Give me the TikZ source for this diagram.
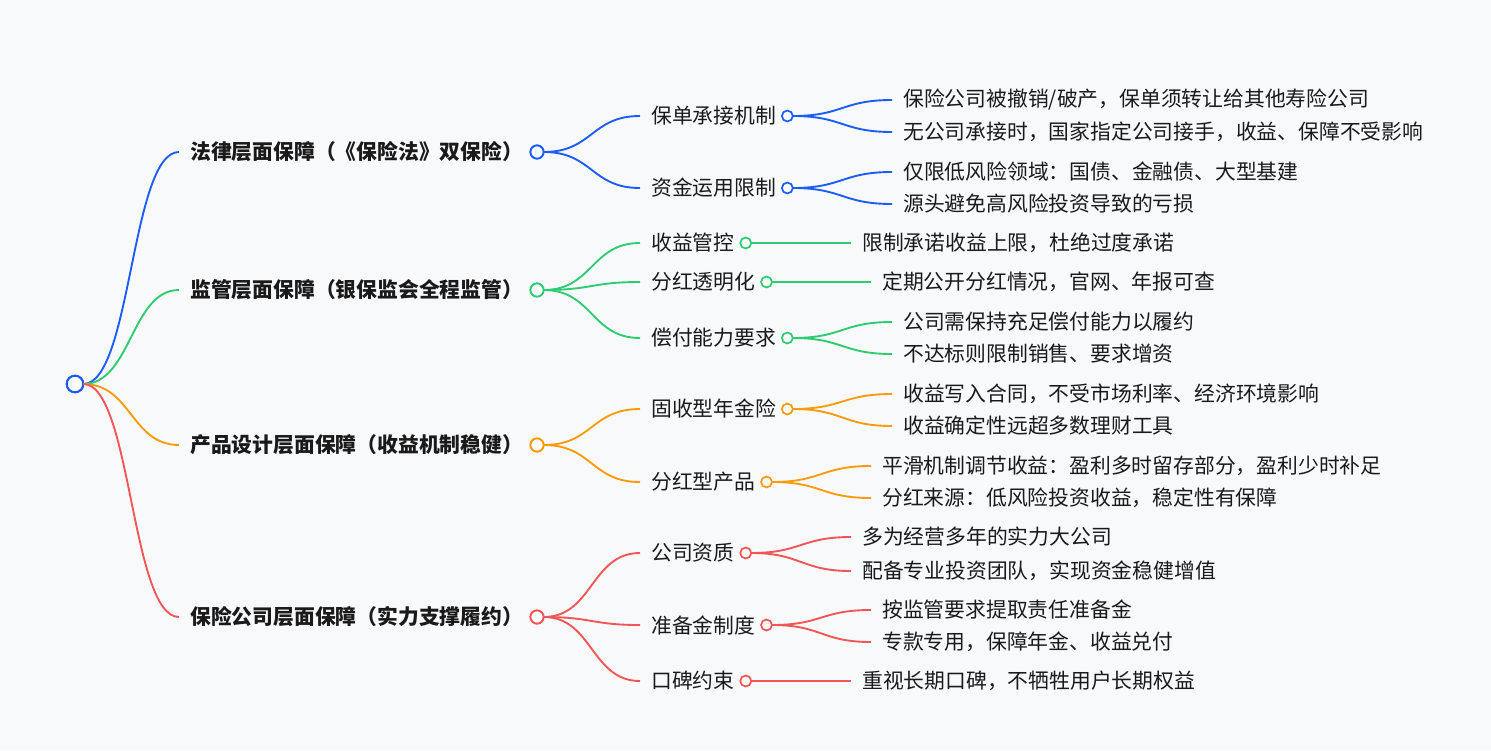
\documentclass[tikz,border=0pt]{standalone}
\usepackage{fontspec}
\setmainfont{Noto Sans CJK SC}
\usetikzlibrary{positioning}
\definecolor{bgcol}{HTML}{F8F9FB}
\definecolor{inkcol}{HTML}{1A1A1A}
\definecolor{lawblue}{HTML}{1A5CFF}
\definecolor{reggreen}{HTML}{2ECC71}
\definecolor{prodorange}{HTML}{FF9A0A}
\definecolor{compred}{HTML}{F25555}
\tikzstyle{rootdot} = [draw=lawblue,circle,fill=white,line width=1.6pt,minimum size=12.5pt,inner sep=0pt,outer sep=0pt]
\tikzstyle{onedot} = [circle,fill=white,line width=1.5pt,minimum size=10pt,inner sep=0pt,outer sep=0pt]
\tikzstyle{twodot} = [circle,fill=white,line width=1.3pt,minimum size=8.2pt,inner sep=0pt,outer sep=0pt]
\tikzstyle{lvone} = [anchor=west,inner xsep=8.25pt,inner ysep=0pt,text=inkcol,font=\fontsize{15.6pt}{18pt}\selectfont\bfseries]
\tikzstyle{lvtwo} = [anchor=west,inner xsep=8.25pt,inner ysep=0pt,text=inkcol,font=\fontsize{15.6pt}{18pt}\selectfont]
\tikzstyle{leaf} = [lvtwo]
\tikzstyle{link} = [line width=1.4pt]

\begin{document}
\begin{tikzpicture}[x=0.75pt,y=-0.75pt]
\fill[bgcol] (0,0) rectangle (1491,750);
\useasboundingbox (0,0) rectangle (1491,750);

\node[rootdot] (root) at (75,384) {};

% first level
\node[lvone] (law) at (179,152) {法律层面保障（《保险法》双保险）};
\node[lvone] (reg) at (179,290) {监管层面保障（银保监会全程监管）};
\node[lvone] (prod) at (179,445) {产品设计层面保障（收益机制稳健）};
\node[lvone] (comp) at (179,617) {保险公司层面保障（实力支撑履约）};

\node[onedot,draw=lawblue,xshift=2pt] (lawdot) at (law.east) {};
\node[onedot,draw=reggreen,xshift=2pt] (regdot) at (reg.east) {};
\node[onedot,draw=prodorange,xshift=2pt] (proddot) at (prod.east) {};
\node[onedot,draw=compred,xshift=2pt] (compdot) at (comp.east) {};

% second level
\node[lvtwo] (law1) at (640,116) {保单承接机制};
\node[lvtwo] (law2) at (640,188) {资金运用限制};
\node[lvtwo] (reg1) at (640,243) {收益管控};
\node[lvtwo] (reg2) at (640,282) {分红透明化};
\node[lvtwo] (reg3) at (640,338) {偿付能力要求};
\node[lvtwo] (prod1) at (640,409) {固收型年金险};
\node[lvtwo] (prod2) at (640,482) {分红型产品};
\node[lvtwo] (comp1) at (640,553) {公司资质};
\node[lvtwo] (comp2) at (640,625) {准备金制度};
\node[lvtwo] (comp3) at (640,681) {口碑约束};

\foreach \n in {law1,law2} \node[twodot,draw=lawblue] (\n dot) at (\n.east) {};
\foreach \n in {reg1,reg2,reg3} \node[twodot,draw=reggreen] (\n dot) at (\n.east) {};
\foreach \n in {prod1,prod2} \node[twodot,draw=prodorange] (\n dot) at (\n.east) {};
\foreach \n in {comp1,comp2,comp3} \node[twodot,draw=compred] (\n dot) at (\n.east) {};

% leaves
\node[leaf] (law1a) at (892,100) {保险公司被撤销/破产，保单须转让给其他寿险公司};
\node[leaf] (law1b) at (892,132) {无公司承接时，国家指定公司接手，收益、保障不受影响};
\node[leaf] (law2a) at (892,172) {仅限低风险领域：国债、金融债、大型基建};
\node[leaf] (law2b) at (892,204) {源头避免高风险投资导致的亏损};
\node[leaf] (reg1a) at (851,243) {限制承诺收益上限，杜绝过度承诺};
\node[leaf] (reg2a) at (871,282) {定期公开分红情况，官网、年报可查};
\node[leaf] (reg3a) at (892,322) {公司需保持充足偿付能力以履约};
\node[leaf] (reg3b) at (892,354) {不达标则限制销售、要求增资};
\node[leaf] (prod1a) at (892,394) {收益写入合同，不受市场利率、经济环境影响};
\node[leaf] (prod1b) at (892,426) {收益确定性远超多数理财工具};
\node[leaf] (prod2a) at (871,466) {平滑机制调节收益：盈利多时留存部分，盈利少时补足};
\node[leaf] (prod2b) at (871,498) {分红来源：低风险投资收益，稳定性有保障};
\node[leaf] (comp1a) at (851,537) {多为经营多年的实力大公司};
\node[leaf] (comp1b) at (851,571) {配备专业投资团队，实现资金稳健增值};
\node[leaf] (comp2a) at (871,610) {按监管要求提取责任准备金};
\node[leaf] (comp2b) at (871,642) {专款专用，保障年金、收益兑付};
\node[leaf] (comp3a) at (851,681) {重视长期口碑，不牺牲用户长期权益};

% links root -> first level
\draw[link,lawblue] (root.east) .. controls +(48,0) and +(-48,0) .. (law.west);
\draw[link,reggreen] (root.east) .. controls +(48,0) and +(-48,0) .. (reg.west);
\draw[link,prodorange] (root.east) .. controls +(48,0) and +(-48,0) .. (prod.west);
\draw[link,compred] (root.east) .. controls +(48,0) and +(-48,0) .. (comp.west);

% links first -> second level
\foreach \n in {law1,law2} \draw[link,lawblue] (lawdot.east) .. controls +(49,0) and +(-49,0) .. (\n.west);
\foreach \n in {reg1,reg2,reg3} \draw[link,reggreen] (regdot.east) .. controls +(49,0) and +(-49,0) .. (\n.west);
\foreach \n in {prod1,prod2} \draw[link,prodorange] (proddot.east) .. controls +(49,0) and +(-49,0) .. (\n.west);
\foreach \n in {comp1,comp2,comp3} \draw[link,compred] (compdot.east) .. controls +(49,0) and +(-49,0) .. (\n.west);

% links second level -> leaves
\foreach \a/\b in {law1/law1a,law1/law1b,law2/law2a,law2/law2b}
  \draw[link,lawblue] (\a dot.east) .. controls +(50,0) and +(-50,0) .. (\b.west);
\foreach \a/\b in {reg1/reg1a,reg2/reg2a,reg3/reg3a,reg3/reg3b}
  \draw[link,reggreen] (\a dot.east) .. controls +(50,0) and +(-50,0) .. (\b.west);
\foreach \a/\b in {prod1/prod1a,prod1/prod1b,prod2/prod2a,prod2/prod2b}
  \draw[link,prodorange] (\a dot.east) .. controls +(50,0) and +(-50,0) .. (\b.west);
\foreach \a/\b in {comp1/comp1a,comp1/comp1b,comp2/comp2a,comp2/comp2b,comp3/comp3a}
  \draw[link,compred] (\a dot.east) .. controls +(50,0) and +(-50,0) .. (\b.west);

\end{tikzpicture}
\end{document}
